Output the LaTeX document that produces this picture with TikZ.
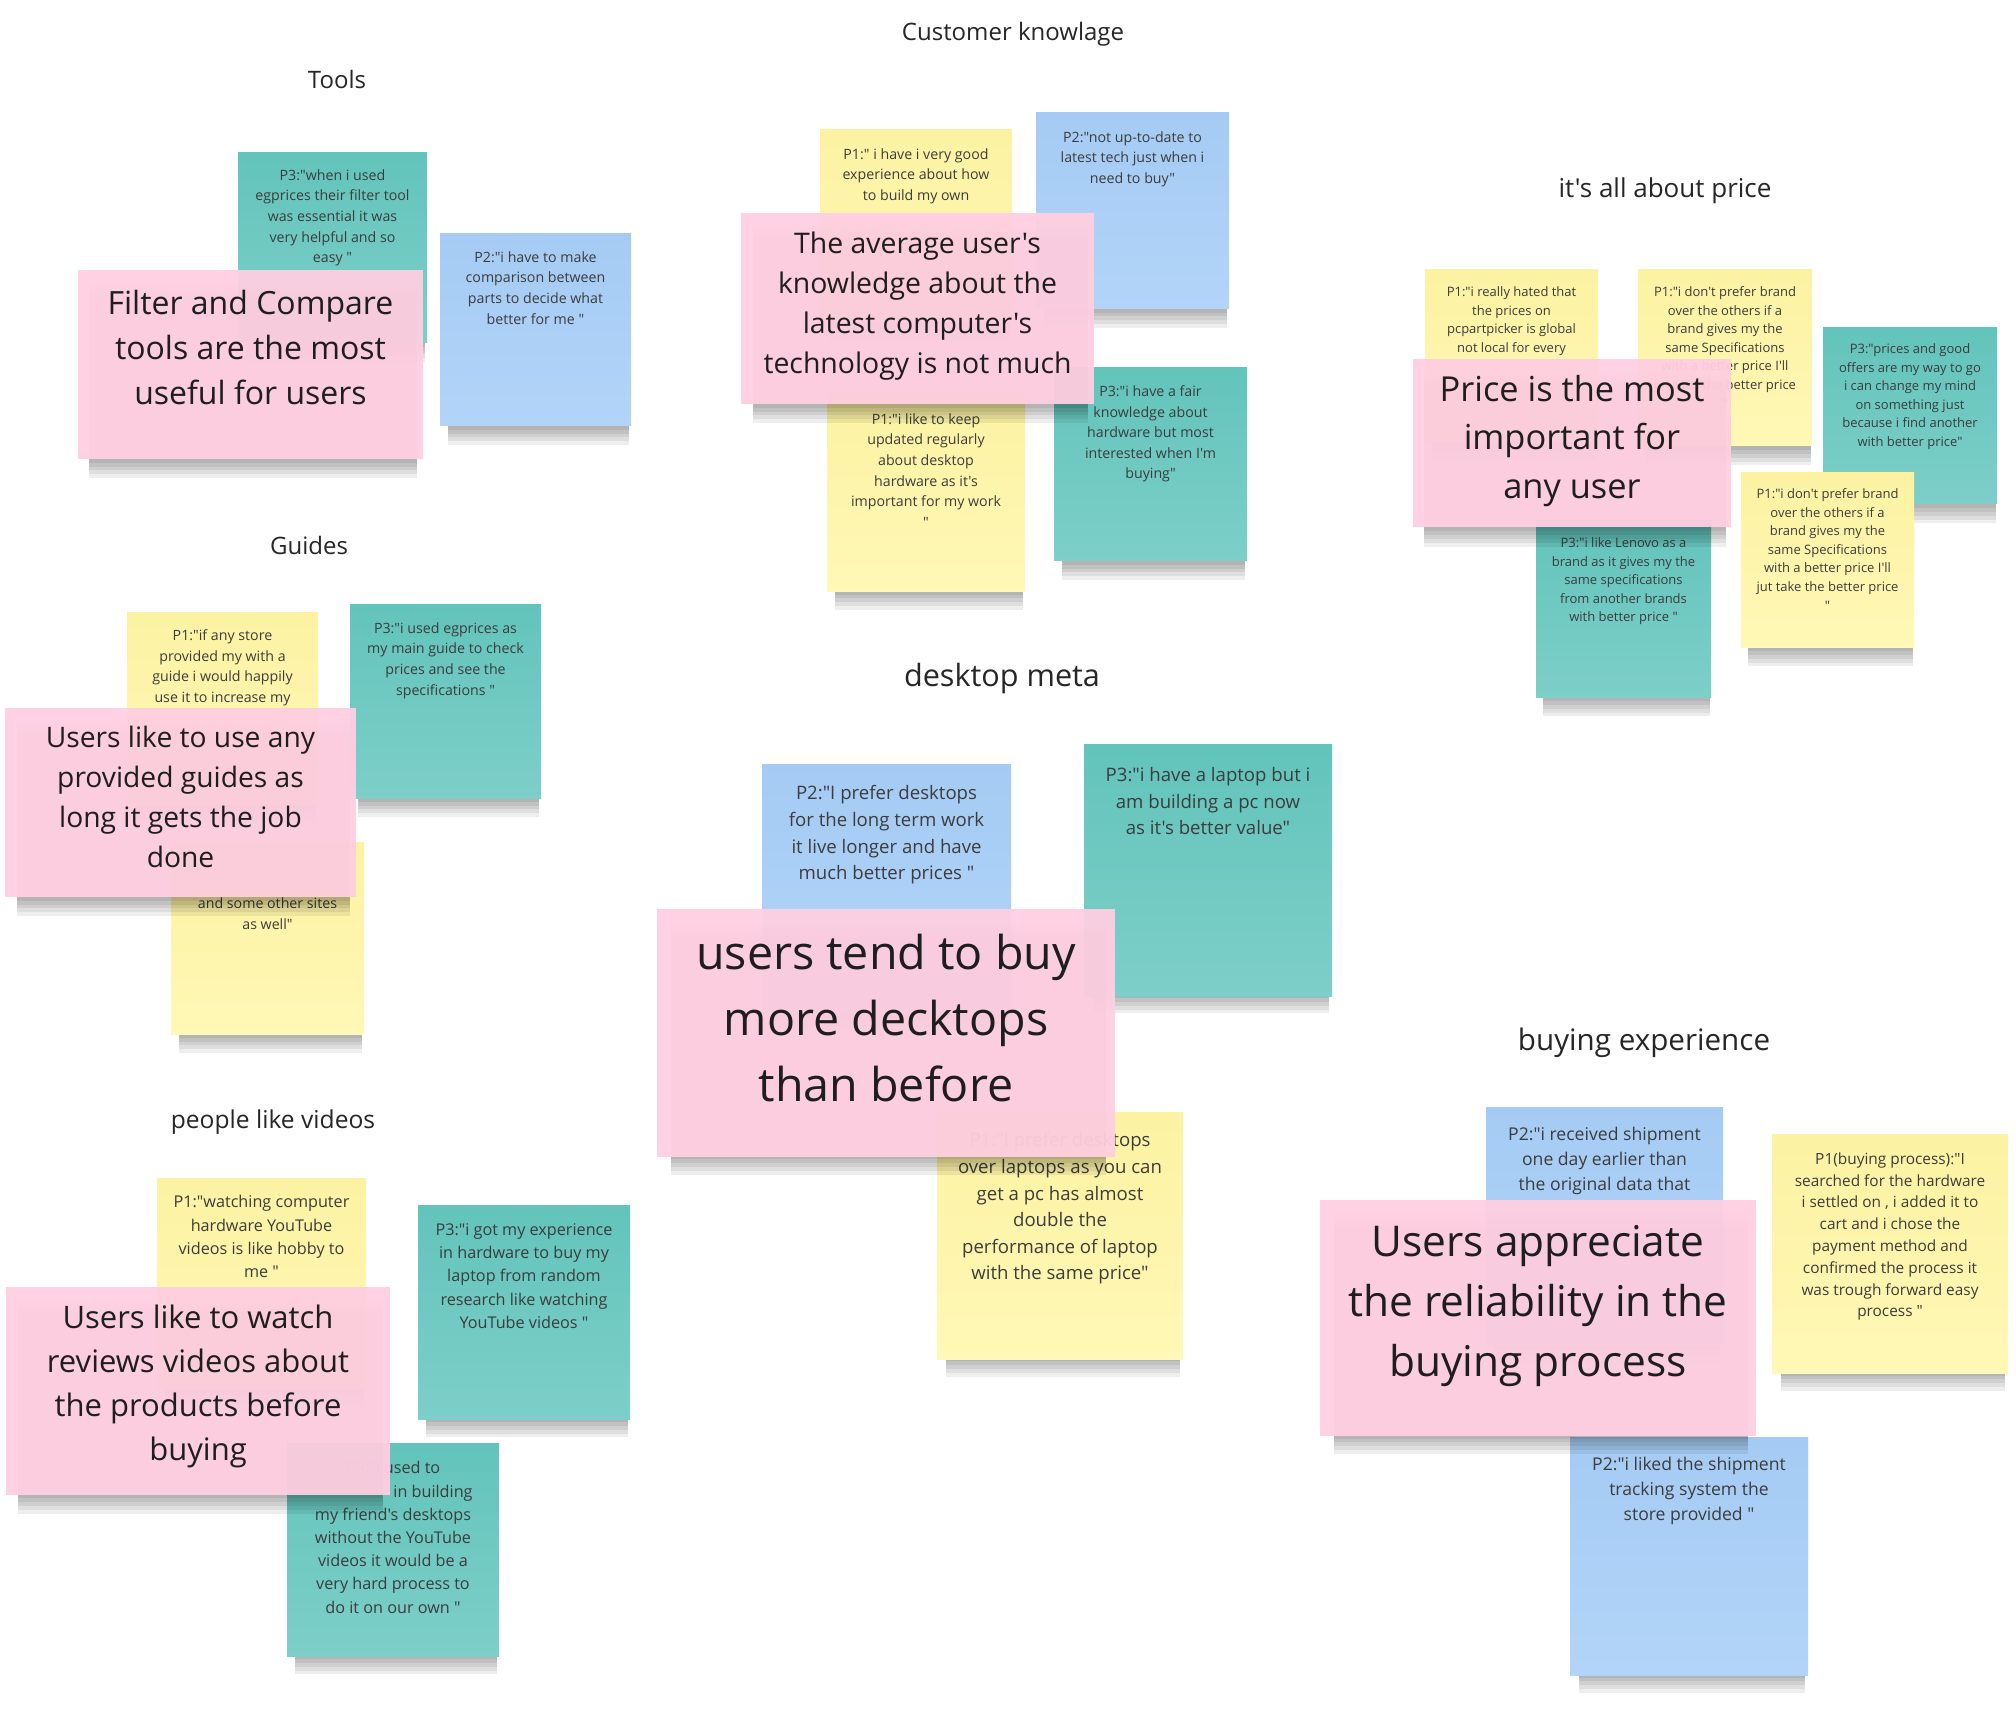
\documentclass[tikz,border=0pt]{standalone}
\usepackage{fontspec}
\newfontfamily\notefont{Open Sans}
\usetikzlibrary{positioning, fit, shadows}

\definecolor{pinkfill}{HTML}{FFCFE1}
\definecolor{bluetop}{HTML}{A5CBF4}
\definecolor{bluebot}{HTML}{B2D4F8}
\definecolor{tealtop}{HTML}{62C4BB}
\definecolor{tealbot}{HTML}{7DCFC9}
\definecolor{yellowtop}{HTML}{FCF2A2}
\definecolor{yellowbot}{HTML}{FFF8B6}
\definecolor{quotetext}{HTML}{3C3C3C}
\definecolor{insighttext}{HTML}{1E1E1E}
\definecolor{headtext}{HTML}{262626}

\tikzset{
  softshadow/.style={general shadow={fill=black, opacity=.065, shadow scale=.95, shadow xshift=1.5pt, shadow yshift=#1}},
  stickynote/.style={rectangle, inner sep=0pt, draw=none,
    softshadow=-4.5pt, softshadow=-6.5pt, softshadow=-8.5pt, softshadow=-10.5pt, softshadow=-12.5pt},
  pinknote/.style={stickynote, fill=pinkfill, fill opacity=.95},
  bluenote/.style={stickynote, top color=bluetop, bottom color=bluebot},
  tealnote/.style={stickynote, top color=tealtop, bottom color=tealbot},
  yellownote/.style={stickynote, top color=yellowtop, bottom color=yellowbot},
  quotetxt/.style 2 args={font=\notefont\fontsize{#1}{#2}\selectfont, text=quotetext, align=center, inner sep=0pt},
  insight/.style 2 args={font=\notefont\fontsize{#1}{#2}\selectfont, text=insighttext, align=center, inner sep=0pt},
  heading/.style={font=\notefont\fontsize{#1}{#1}\selectfont, text=headtext, inner sep=0pt}
}

\begin{document}
\begin{tikzpicture}[x=0.5pt, y=-0.5pt]
\fill[white] (0,0) rectangle (2016,1716);
\useasboundingbox (0,0) rectangle (2016,1716);

% headings
\node[heading=12] (h_ck) at (1013,34) {Customer knowlage};
\node[heading=12] (h_tl) at (337,80) {Tools};
\node[heading=13] (h_pr) at (1665,191) {it's all about price};
\node[heading=12] (h_gd) at (309,545) {Guides};
\node[heading=15.3] (h_dm) at (1002,679) {desktop meta};
\node[heading=12.3] (h_pv) at (273,1122) {people like videos};
\node[heading=14.8] (h_be) at (1644,1043) {buying experience};

% Tools
\node[tealnote, fit={(238,153) (427,343)}] (tl_p3) {};
\node[quotetxt={7.1}{10.3}, below=8.3pt of tl_p3.north] {P3:"when i used\\egprices their filter tool\\was essential it was\\very helpful and so\\easy  "};
\node[bluenote, fit={(440,234) (631,426)}] (tl_p2) {};
\node[quotetxt={7.1}{10.3}, below=8.8pt of tl_p2.north] {P2:"i have to make\\comparison between\\parts to decide what\\better for me "};
\node[pinknote, fit={(78,270) (423,459)}] (tl_in) {};
\node[insight={16}{22.5}, below=10pt of tl_in.north] {Filter and Compare\\tools are the most\\useful for users};

% Customer knowlage
\node[yellownote, fit={(820,130) (1012,322)}] (ck_p1a) {};
\node[quotetxt={7.1}{10.3}, below=9.3pt of ck_p1a.north] {P1:" i have i very good\\experience about how\\to build my own};
\node[bluenote, fit={(1036,113) (1229,309)}] (ck_p2) {};
\node[quotetxt={7.1}{10.3}, below=9.3pt of ck_p2.north] {P2:"not up-to-date to\\latest tech just when i\\need to buy"};
\node[yellownote, fit={(827,393) (1025,591)}] (ck_p1b) {};
\node[quotetxt={7.1}{10.3}, below=10.3pt of ck_p1b.north] {P1:"i like to keep\\updated regularly\\about desktop\\hardware as it's\\important for my work\\"};
\node[tealnote, fit={(1054,368) (1247,561)}] (ck_p3) {};
\node[quotetxt={7.1}{10.3}, below=8.8pt of ck_p3.north] {P3:"i have a fair\\knowledge about\\hardware but most\\interested when I'm\\buying"};
\node[pinknote, fit={(741,213) (1094,404)}] (ck_in) {};
\node[insight={14.2}{20}, below=9.25pt of ck_in.north] {The average user's\\knowledge about the\\latest computer's\\technology is not much};

% it's all about price
\node[yellownote, fit={(1425,270) (1598,443)}] (pr_p1a) {};
\node[quotetxt={6.5}{9.3}, below=8.3pt of pr_p1a.north] {P1:"i really hated that\\the prices on\\pcpartpicker is global\\not local for every};
\node[yellownote, fit={(1638,270) (1812,446)}] (pr_p1b) {};
\node[quotetxt={6.5}{9.3}, below=8.3pt of pr_p1b.north] {P1:"i don't prefer brand\\over the others if a\\brand gives my the\\same Specifications\\with a better price I'll\\jut take the better price\\"};
\node[tealnote, fit={(1823,328) (1997,504)}] (pr_p3a) {};
\node[quotetxt={6.5}{9.3}, below=7.8pt of pr_p3a.north] {P3:"prices and good\\offers are my way to go\\i can change my mind\\on something just\\because i find another\\with better price"};
\node[yellownote, fit={(1741,473) (1914,647)}] (pr_p1c) {};
\node[quotetxt={6.5}{9.3}, below=7.8pt of pr_p1c.north] {P1:"i don't prefer brand\\over the others if a\\brand gives my the\\same Specifications\\with a better price I'll\\jut take the better price\\"};
\node[tealnote, fit={(1536,521) (1711,697)}] (pr_p3b) {};
\node[quotetxt={6.5}{9.3}, below=8.3pt of pr_p3b.north] {P3:"i like Lenovo as a\\brand as it gives my the\\same specifications\\from another brands\\with better price "};
\node[pinknote, fit={(1413,359) (1731,527)}] (pr_in) {};
\node[insight={17.2}{24.4}, below=8pt of pr_in.north] {Price is the most\\important for\\any user};

% Guides
\node[yellownote, fit={(127,612) (318,804)}] (gd_p1a) {};
\node[quotetxt={7.1}{10.3}, below=8.8pt of gd_p1a.north] {P1:"if any store\\provided my with a\\guide i would happily\\use it to increase my};
\node[tealnote, fit={(350,604) (541,798)}] (gd_p3) {};
\node[quotetxt={7.1}{10.3}, below=9.3pt of gd_p3.north] {P3:"i used egprices as\\my main guide to check\\prices and see the\\specifications "};
\node[yellownote, fit={(171,842) (364,1034)}] (gd_p1b) {};
\node[quotetxt={7.1}{10.3}, below=28.1pt of gd_p1b.north] {and some other sites\\as well"};
\node[pinknote, fit={(5,708) (356,897)}] (gd_in) {};
\node[insight={14.1}{20}, below=9.2pt of gd_in.north] {Users like to use any\\provided guides as\\long it gets the job\\done};

% desktop meta
\node[bluenote, fit={(762,764) (1011,1013)}] (dm_p2) {};
\node[quotetxt={9.3}{13.3}, below=10.8pt of dm_p2.north] {P2:"I prefer desktops\\for the long term work\\it live longer and have\\much better prices "};
\node[tealnote, fit={(1084,744) (1332,996)}] (dm_p3) {};
\node[quotetxt={9.3}{13.3}, below=11.8pt of dm_p3.north] {P3:"i have a laptop but i\\am building a pc now\\as it's better value"};
\node[yellownote, fit={(937,1112) (1183,1359)}] (dm_p1) {};
\node[quotetxt={9.3}{13.3}, below=10.3pt of dm_p1.north] {P1:"I prefer desktops\\over laptops as you can\\get a pc has almost\\double the\\performance of laptop\\with the same price"};
\node[pinknote, fit={(657,909) (1115,1157)}] (dm_in) {};
\node[insight={23.3}{33}, below=12.5pt of dm_in.north] {users tend to buy\\more decktops\\than before};

% people like videos
\node[yellownote, fit={(157,1178) (366,1388)}] (pv_p1) {};
\node[quotetxt={8.1}{11.6}, below=8.8pt of pv_p1.north] {P1:"watching computer\\hardware YouTube\\videos is like hobby to\\me "};
\node[tealnote, fit={(418,1205) (630,1419)}] (pv_p3a) {};
\node[quotetxt={8.1}{11.6}, below=9.3pt of pv_p3a.north] {P3:"i got my experience\\in hardware to buy my\\laptop from random\\research like watching\\YouTube videos  "};
\node[tealnote, fit={(287,1443) (499,1656)}] (pv_p3b) {};
\node[quotetxt={8.1}{11.6}, below=9.3pt of pv_p3b.north] {P3:"i used to\\\hspace*{40pt}in building\\my friend's desktops\\without the YouTube\\videos it would be a\\very hard  process to\\do it on our own "};
\node[pinknote, fit={(6,1287) (390,1495)}] (pv_in) {};
\node[insight={15.5}{22}, below=9.2pt of pv_in.north] {Users like to watch\\reviews videos about\\the products before\\buying};

% buying experience
\node[bluenote, fit={(1486,1107) (1723,1344)}] (be_p2a) {};
\node[quotetxt={8.8}{12.5}, below=10.3pt of be_p2a.north] {P2:"i received shipment\\one day earlier than\\the original data that};
\node[yellownote, fit={(1772,1134) (2008,1373)}] (be_p1) {};
\node[quotetxt={7.7}{10.9}, below=9.3pt of be_p1.north] {P1(buying process):"I\\searched for the hardware\\i settled on , i added it to\\cart and i chose the\\payment method and\\confirmed the process it\\was trough forward easy\\process   "};
\node[bluenote, fit={(1570,1437) (1808,1675)}] (be_p2b) {};
\node[quotetxt={8.8}{12.5}, below=10.3pt of be_p2b.north] {P2:"i liked the shipment\\tracking system the\\store provided "};
\node[pinknote, fit={(1320,1200) (1756,1436)}] (be_in) {};
\node[insight={21.2}{30}, below=12.5pt of be_in.north] {Users appreciate\\the reliability in the\\buying process};
\end{tikzpicture}
\end{document}
